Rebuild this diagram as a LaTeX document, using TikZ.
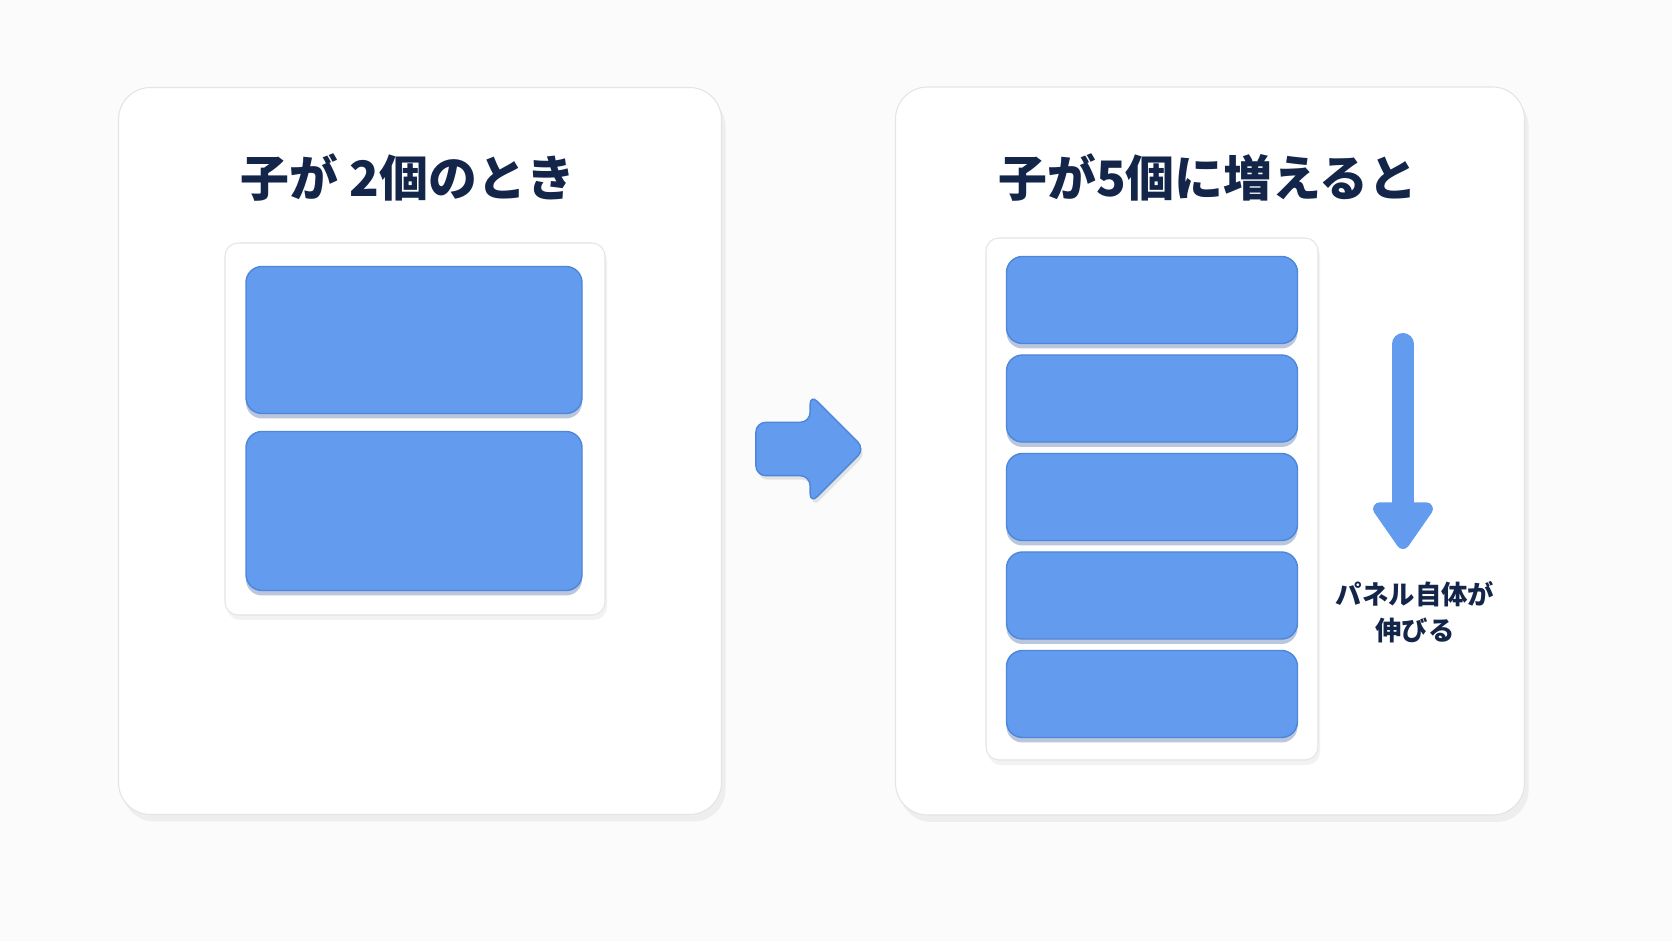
\documentclass[tikz,border=0pt]{standalone}
\usepackage{fontspec}
\usepackage{xcolor}
\usepackage{tikz}
\usetikzlibrary{arrows.meta,positioning,shapes.arrows,shadows}
\newfontfamily\jpfont{Noto Sans CJK JP}
\definecolor{bgwhite}{HTML}{FBFBFB}
\definecolor{panelline}{HTML}{E4E4E4}
\definecolor{kidblue}{HTML}{639CEE}
\definecolor{kidedge}{HTML}{4E86DA}
\definecolor{titlenavy}{HTML}{14254A}

\begin{document}
\begin{tikzpicture}[x=0.1mm,y=-0.1mm,font=\jpfont]
    \tikzstyle{panel}=[draw=panelline,line width=0.3pt,fill=white,rounded corners=3.2mm,
      drop shadow={shadow xshift=0.4mm,shadow yshift=-0.7mm,opacity=0.10}]
    \tikzstyle{holder}=[draw=panelline,line width=0.3pt,fill=white,rounded corners=1.3mm,
      drop shadow={shadow xshift=0.2mm,shadow yshift=-0.5mm,opacity=0.10}]
    \tikzstyle{kid}=[fill=kidblue,draw=kidedge,line width=0.4pt,rounded corners=1.6mm,minimum width=33.6mm,
      drop shadow={shadow xshift=0mm,shadow yshift=-0.5mm,opacity=0.35,fill=kidedge!70!black}]
    \tikzstyle{title}=[text=titlenavy,font=\jpfont\bfseries\fontsize{13.9pt}{16pt}\selectfont]
    \tikzstyle{note}=[text=titlenavy,font=\jpfont\bfseries\fontsize{7.5pt}{10.2pt}\selectfont,align=center]
    % canvas
    \fill[bgwhite] (0,0) rectangle (1672,941);
    \useasboundingbox (0,0) rectangle (1672,941);
    % before
    \node[panel,minimum width=60.3mm,minimum height=72.7mm] (before) at (420,451) {};
    \node[title] (t2) at (408,178) {子が 2個のとき};
    \node[holder,minimum width=38mm,minimum height=37.2mm] (box2) at (415,429) {};
    \node[kid,minimum height=14.7mm] (a1) at (414,340) {};
    \node[kid,minimum height=15.9mm] (a2) at (414,511) {};
    % after
    \node[panel,minimum width=62.9mm,minimum height=72.8mm] (after) at (1210,451) {};
    \node[title] (t5) at (1208,178) {子が5個に増えると};
    \node[holder,minimum width=33.2mm,minimum height=52.2mm] (box5) at (1152,499) {};
    \foreach \i in {1,...,5}
      \node[kid,minimum width=29.1mm,minimum height=8.7mm] (b\i) at (1152,{300+98.5*(\i-1)}) {};
    % arrows
    \node[single arrow,fill=kidblue,draw=kidedge,line width=0.4pt,rounded corners=1mm,
      minimum height=10.9mm,inner xsep=0pt,inner ysep=2.6mm,single arrow head extend=2.8mm,
      drop shadow={shadow xshift=0.2mm,shadow yshift=-0.4mm,opacity=0.2}] (go) at (797,449) {};
    \coordinate (top) at (1403,344);
    \coordinate (tip) at (1403,549);
    \draw[kidblue,line width=2.2mm,line cap=round,-{Triangle[length=5.2mm,width=6.8mm,round]}] (top) -- (tip);
    \node[note] (grow) at (1415,612) {パネル自体が\\伸びる};
  \end{tikzpicture}
\end{document}
